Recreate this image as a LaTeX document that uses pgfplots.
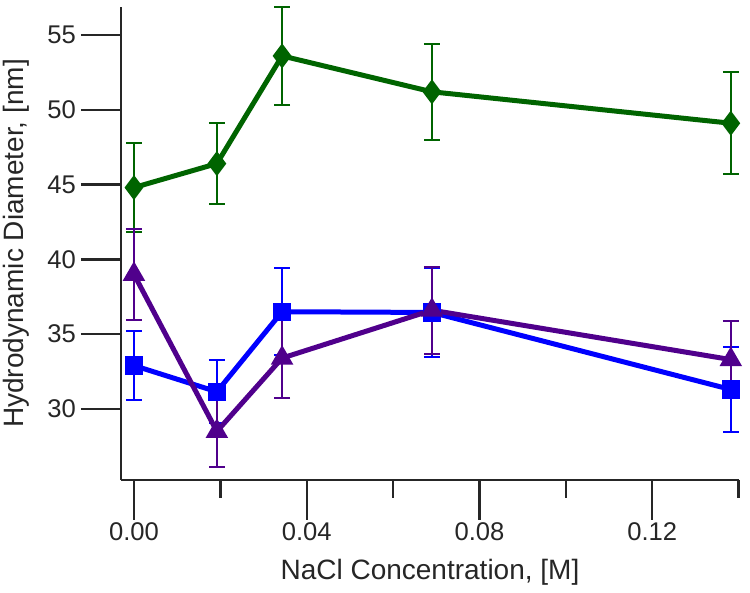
\documentclass[border=0pt]{standalone}
\usepackage{pgfplots}
\pgfplotsset{compat=1.18}
\usepackage{fontspec}
\setmainfont{Liberation Sans}
\usetikzlibrary{calc}
\definecolor{cgreen}{RGB}{0,100,0}
\definecolor{cblue}{RGB}{0,0,255}
\definecolor{cpurple}{RGB}{80,0,140}
\begin{document}
\begin{tikzpicture}
\begin{axis}[
  scale only axis,
  width=309pt, height=236.5pt,
  xmin=-0.003, xmax=0.1401,
  ymin=25.25, ymax=56.87,
  axis x line*=bottom, axis y line*=left,
  axis line style={line width=1.2pt, black!85},
  tick style={line width=1.2pt, black!85},
  tick align=outside,
  major tick length=20pt, minor tick length=9pt,
  xtick={0,0.04,0.08,0.12},
  minor xtick={0.02,0.06,0.10,0.14},
  ytick={30,35,40,45,50,55},
  xticklabel style={/pgf/number format/.cd,fixed,fixed zerofill,precision=2},
  scaled x ticks=false,
  xticklabel shift=-2pt,
  yticklabel shift=-1pt,
  /pgf/number format/assume math mode=true,
  ticklabel style={font=\fontsize{12.8}{14}\selectfont, black!85},
  label style={font=\fontsize{14}{16}\selectfont, black!85},
  xlabel={NaCl Concentration, [M]},
  ylabel={Hydrodynamic Diameter, [nm]},
  xlabel style={at={(rel axis cs:0.5,0)}, anchor=center, yshift=-46pt},
  ylabel style={at={(rel axis cs:0,0.5)}, anchor=center, yshift=52.5pt},
  clip=false,
  every axis plot/.append style={line width=2.5pt},
  error bars/y dir=both, error bars/y explicit,
  error bars/error bar style={line width=1pt},
  error bars/error mark options={rotate=90, mark size=4pt, line width=1pt},
]
\addplot[color=cgreen, mark=diamond*, mark size=4.2pt, mark options={solid}]
  coordinates {
  (0,44.8) +- (0,3.0)
  (0.0192,46.4) +- (0,2.7)
  (0.0343,53.6) +- (0,3.3)
  (0.0690,51.2) +- (0,3.2)
  (0.1382,49.1) +- (0,3.4)
  };
\addplot[color=cblue, mark=square*, mark size=3.3pt, mark options={solid}]
  coordinates {
  (0,32.9) +- (0,2.3)
  (0.0192,31.15) +- (0,2.1)
  (0.0343,36.5) +- (0,2.9)
  (0.0690,36.45) +- (0,2.95)
  (0.1382,31.3) +- (0,2.85)
  };
\addplot[color=cpurple, mark=triangle*, mark size=4pt, mark options={solid}]
  coordinates {
  (0,39.0) +- (0,3.05)
  (0.0192,28.5) +- (0,2.4)
  (0.0343,33.4) +- (0,2.7)
  (0.0690,36.6) +- (0,2.9)
  (0.1382,33.3) +- (0,2.55)
  };
\end{axis}
\pgfresetboundingbox
\useasboundingbox ($(current axis.south west)+(-60.5pt,-56.5pt)$) rectangle ($(current axis.north east)+(5.5pt,3.5pt)$);
\end{tikzpicture}
\end{document}
